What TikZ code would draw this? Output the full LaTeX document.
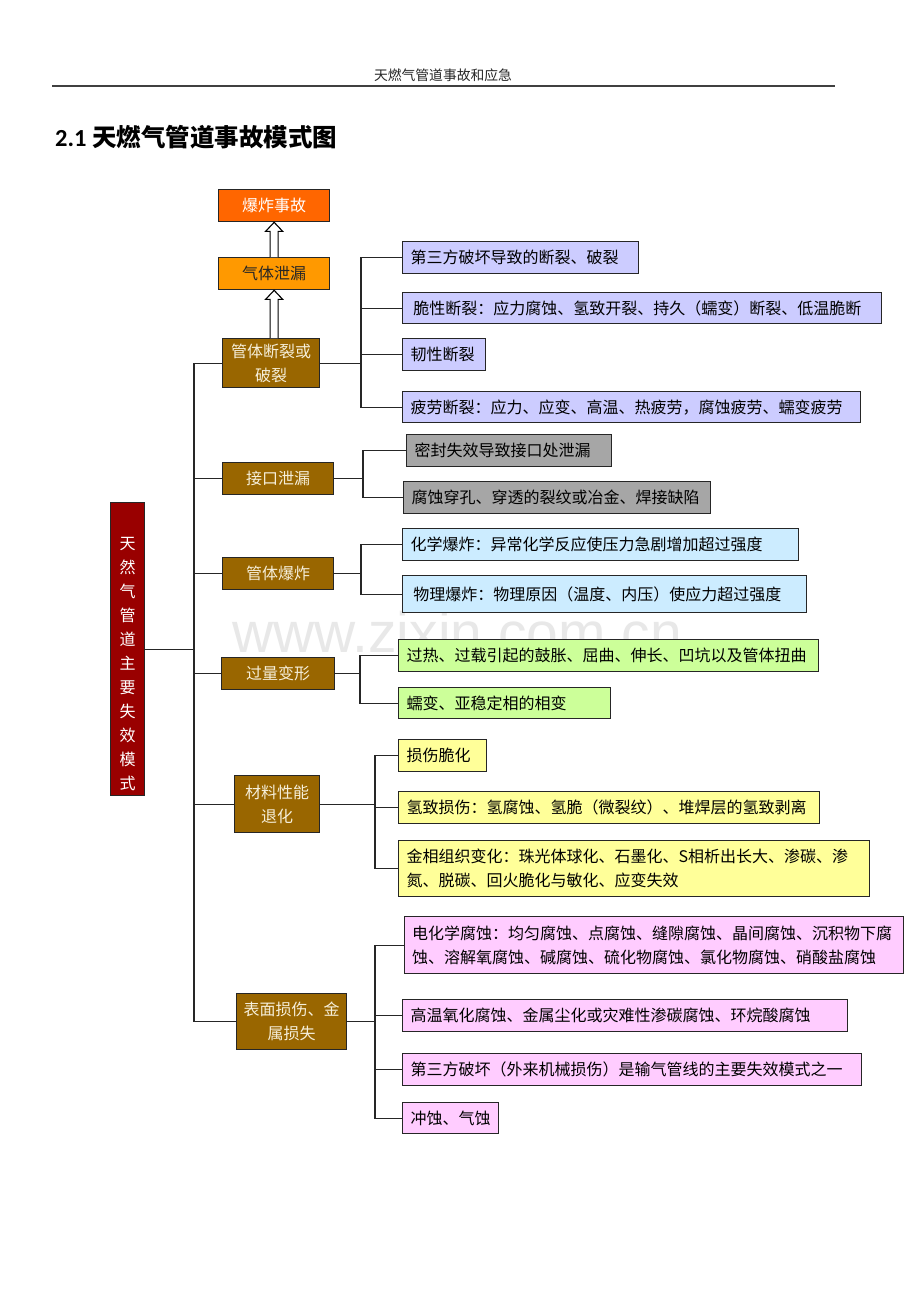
\documentclass[tikz,border=0pt]{standalone}
\usepackage{fontspec}
\setmainfont{Noto Sans CJK SC}
\newfontfamily\calfont{Carlito}
\newfontfamily\wmfont{Liberation Sans}
\usetikzlibrary{calc}
\XeTeXlinebreaklocale "zh"
\definecolor{cRed}{HTML}{FF6600}
\definecolor{cOrange}{HTML}{FF9900}
\definecolor{cBrown}{HTML}{996600}
\definecolor{cMain}{HTML}{990000}
\definecolor{cPurple}{HTML}{CCCCFF}
\definecolor{cGray}{HTML}{A6A6A6}
\definecolor{cBlue}{HTML}{CCECFF}
\definecolor{cGreen}{HTML}{CCFF99}
\definecolor{cYellow}{HTML}{FFFF99}
\definecolor{cPink}{HTML}{FFCCFF}
\definecolor{catTxt}{HTML}{F6EFDA}
\definecolor{lineC}{HTML}{262626}
\definecolor{wmC}{HTML}{E8E8E8}
\begin{document}
\begin{tikzpicture}[x=1pt,y=-1pt,
  box/.style={draw=lineC, line width=1.3pt, anchor=north west, inner ysep=2pt},
  leaf/.style={box, fill=#1, inner xsep=8pt, align=left, text=black,
    font=\fontsize{16}{24}\selectfont},
  cat/.style={box, fill=cBrown, inner xsep=2pt, align=center, text=catTxt,
    font=\fontsize{16}{24}\selectfont},
  top/.style={box, fill=#1, inner xsep=2pt, align=center,
    font=\fontsize{16}{24}\selectfont},
  conn/.style={draw=lineC, line width=1.2pt},
  hollow/.style={draw=black, line width=1.1pt, fill=white}
]
\useasboundingbox[fill=white] (0,0) rectangle (920,1302);

% watermark
\node[anchor=base west, inner sep=0pt, text=wmC, font=\wmfont\fontsize{57}{60}\selectfont] (wm) at (232,652) {www.zixin.com.cn};

% header
\node[inner sep=0pt, font=\fontsize{13.8}{16}\selectfont, text=black!85] (hdr) at (443,75) {天燃气管道事故和应急};
\coordinate (hl) at (52,86);
\coordinate (hr) at (835,86);
\draw[line width=1.5pt, draw=black!75] (hl) -- (hr);

% title
\node[anchor=base west, inner sep=0pt, font=\bfseries\fontsize{24.5}{28}\selectfont] (title) at (55,146) {{\calfont\bfseries 2.1} 天燃气管道事故模式图};

% top boxes
\node[top=cRed, text=white, minimum width=111, minimum height=32] (t1) at (218,189) {爆炸事故};
\node[top=cOrange, text=black!85, minimum width=111, minimum height=32] (t2) at (218,257) {气体泄漏};

% main box
\node[box, fill=cMain, minimum width=34, minimum height=293, inner sep=0pt,
  label={[inner sep=0pt, text=white, align=center, yshift=-15pt,
          font=\fontsize{16}{24}\selectfont]center:天\\然\\气\\管\\道\\主\\要\\失\\效\\模\\式}] (main) at (110,502) {};

% category boxes
\node[cat, minimum width=97, minimum height=49] (c1) at (222,338) {管体断裂或\\破裂};
\node[cat, minimum width=111, minimum height=32] (c2) at (222,462) {接口泄漏};
\node[cat, minimum width=111, minimum height=32] (c3) at (222,557) {管体爆炸};
\node[cat, minimum width=113, minimum height=32] (c4) at (221,657) {过量变形};
\node[cat, minimum width=85, minimum height=57] (c5) at (234,775) {材料性能\\退化};
\node[cat, minimum width=110, minimum height=56] (c6) at (236,993) {表面损伤、金\\属损失};

% leaves group 1
\node[leaf=cPurple, text width=220, minimum height=32] (l11) at (402,241) {第三方破坏导致的断裂、破裂};
\node[leaf=cPurple, text width=463, minimum height=31] (l12) at (402,292) {\,脆性断裂：应力腐蚀、氢致开裂、持久（蠕变）断裂、低温脆断};
\node[leaf=cPurple, text width=67, minimum height=32] (l13) at (402,338) {韧性断裂};
\node[leaf=cPurple, text width=442, minimum height=31] (l14) at (402,391) {疲劳断裂：应力、应变、高温、热疲劳，腐蚀疲劳、蠕变疲劳};
% group 2
\node[leaf=cGray, text width=189, minimum height=32] (l21) at (406,434) {密封失效导致接口处泄漏};
\node[leaf=cGray, text width=291, minimum height=32] (l22) at (403,481) {腐蚀穿孔、穿透的裂纹或冶金、焊接缺陷};
% group 3
\node[leaf=cBlue, text width=380, minimum height=32] (l31) at (402,528) {化学爆炸：异常化学反应使压力急剧增加超过强度};
\node[leaf=cBlue, text width=388, minimum height=37] (l32) at (402,575) {\,物理爆炸：物理原因（温度、内压）使应力超过强度};
% group 4
\node[leaf=cGreen, text width=404, minimum height=32] (l41) at (398,639) {过热、过载引起的鼓胀、屈曲、伸长、凹坑以及管体扭曲};
\node[leaf=cGreen, text width=196, minimum height=31] (l42) at (398,687) {蠕变、亚稳定相的相变};
% group 5
\node[leaf=cYellow, text width=72, minimum height=32] (l51) at (398,739) {损伤脆化};
\node[leaf=cYellow, text width=405, minimum height=32] (l52) at (398,791) {氢致损伤：氢腐蚀、氢脆（微裂纹）、堆焊层的氢致剥离};
\node[leaf=cYellow, text width=455, minimum height=56] (l53) at (398,840) {金相组织变化：珠光体球化、石墨化、S相析出长大、渗碳、渗\\氮、脱碳、回火脆化与敏化、应变失效};
% group 6
\node[leaf=cPink, text width=484, minimum height=57, inner xsep=7.5pt] (l61) at (404,916) {电化学腐蚀：均匀腐蚀、点腐蚀、缝隙腐蚀、晶间腐蚀、沉积物下腐\\蚀、溶解氧腐蚀、碱腐蚀、硫化物腐蚀、氯化物腐蚀、硝酸盐腐蚀};
\node[leaf=cPink, text width=429, minimum height=32] (l62) at (402,999) {高温氧化腐蚀、金属尘化或灾难性渗碳腐蚀、环烷酸腐蚀};
\node[leaf=cPink, text width=443, minimum height=32] (l63) at (402,1053) {第三方破坏（外来机械损伤）是输气管线的主要失效模式之一};
\node[leaf=cPink, text width=80, minimum height=31] (l64) at (402,1102) {冲蚀、气蚀};

% hollow arrows
\draw[hollow] ($(t2.south |- c1.north)+(-4,0)$) -- ($(t2.south)+(-4,9)$) -- ($(t2.south)+(-8.5,9)$)
  -- (t2.south) -- ($(t2.south)+(8.5,9)$) -- ($(t2.south)+(4,9)$) -- ($(t2.south |- c1.north)+(4,0)$);
\draw[hollow] ($(t1.south |- t2.north)+(-4,0)$) -- ($(t1.south)+(-4,9)$) -- ($(t1.south)+(-8.5,9)$)
  -- (t1.south) -- ($(t1.south)+(8.5,9)$) -- ($(t1.south)+(4,9)$) -- ($(t1.south |- t2.north)+(4,0)$);

% trunk
\coordinate (tr) at (194,0);
\foreach \c in {c1,c2,c3,c4,c5,c6}
  \draw[conn] (main.east) -| (tr |- \c.west) -- (\c.west);

% branch verticals
\coordinate (v1) at (361,0);
\coordinate (v2) at (363,0);
\coordinate (v3) at (361,0);
\coordinate (v4) at (360,0);
\coordinate (v5) at (375,0);
\coordinate (v6) at (375,0);
\foreach \l in {l11,l12,l13,l14}
  \draw[conn] (c1.east) -| (v1 |- \l.west) -- (\l.west);
\foreach \l in {l21,l22}
  \draw[conn] (c2.east) -| (v2 |- \l.west) -- (\l.west);
\foreach \l in {l31,l32}
  \draw[conn] (c3.east) -| (v3 |- \l.west) -- (\l.west);
\foreach \l in {l41,l42}
  \draw[conn] (c4.east) -| (v4 |- \l.west) -- (\l.west);
\foreach \l in {l51,l52,l53}
  \draw[conn] (c5.east) -| (v5 |- \l.west) -- (\l.west);
\foreach \l in {l61,l62,l63,l64}
  \draw[conn] (c6.east) -| (v6 |- \l.west) -- (\l.west);
\end{tikzpicture}
\end{document}
